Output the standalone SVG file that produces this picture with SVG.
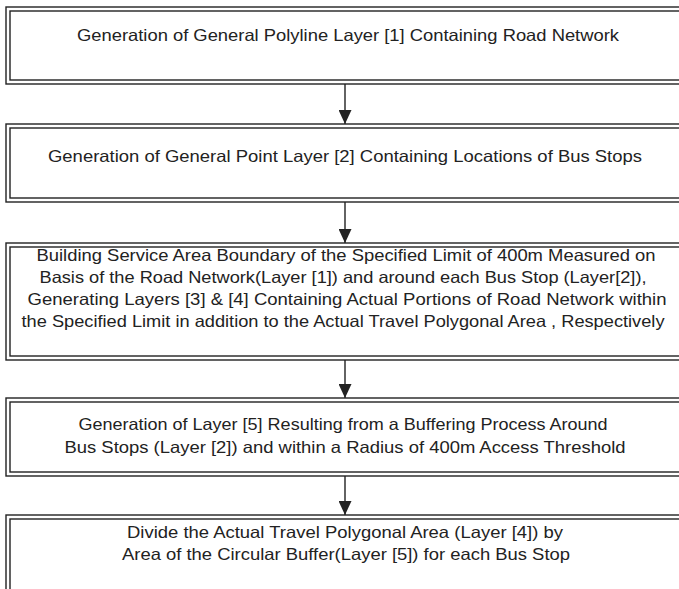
<svg xmlns="http://www.w3.org/2000/svg" width="679" height="589" viewBox="0 0 679 589">
<style>
.o{fill:none;stroke:#222;stroke-width:1.4}
.t{font-family:"Liberation Sans",Arial,sans-serif;font-size:16.5px;fill:#222;text-anchor:middle}
.c{stroke:#222;stroke-width:1.4;fill:none}
</style>
<defs>
<marker id="ah" markerWidth="14" markerHeight="13" refX="14" refY="6.5" orient="auto" markerUnits="userSpaceOnUse" viewBox="0 0 14 13">
<path d="M0,0 L14,6.5 L0,13 Z" fill="#222"/>
</marker>
</defs>
<rect width="679" height="589" fill="#fff"/>
<g id="connectors">
<line class="c" x1="345" y1="84" x2="345" y2="124" marker-end="url(#ah)"/>
<line class="c" x1="345" y1="202" x2="345" y2="243" marker-end="url(#ah)"/>
<line class="c" x1="345" y1="360" x2="345" y2="398" marker-end="url(#ah)"/>
<line class="c" x1="345" y1="476" x2="345" y2="515" marker-end="url(#ah)"/>
</g>
<g id="n1">
<rect class="o" x="6" y="7" width="690" height="77"/>
<rect class="o" x="10" y="11" width="682" height="69"/>
<text class="t" x="348" y="41" textLength="542" lengthAdjust="spacingAndGlyphs">Generation of General Polyline Layer [1] Containing Road Network</text>
</g>
<g id="n2">
<rect class="o" x="6" y="124" width="690" height="78"/>
<rect class="o" x="10" y="128" width="682" height="70"/>
<text class="t" x="345" y="162" textLength="594" lengthAdjust="spacingAndGlyphs">Generation of General Point Layer [2] Containing Locations of Bus Stops</text>
</g>
<g id="n3">
<rect class="o" x="6" y="243" width="690" height="117"/>
<rect class="o" x="10" y="247" width="682" height="109"/>
<text class="t" x="346" y="261" textLength="619" lengthAdjust="spacingAndGlyphs">Building Service Area Boundary of the Specified Limit of 400m Measured on</text>
<text class="t" x="343" y="283" textLength="607" lengthAdjust="spacingAndGlyphs">Basis of the Road Network(Layer [1]) and around each Bus Stop (Layer[2]),</text>
<text class="t" x="347" y="305" textLength="639" lengthAdjust="spacingAndGlyphs">Generating Layers [3] &amp; [4] Containing Actual Portions of Road Network within</text>
<text class="t" x="343" y="327" textLength="643" lengthAdjust="spacingAndGlyphs">the Specified Limit in addition to the Actual Travel Polygonal Area , Respectively</text>
</g>
<g id="n4">
<rect class="o" x="6" y="398" width="690" height="78"/>
<rect class="o" x="10" y="402" width="682" height="70"/>
<text class="t" x="343" y="430" textLength="529" lengthAdjust="spacingAndGlyphs">Generation of Layer [5] Resulting from a Buffering Process Around</text>
<text class="t" x="345" y="453" textLength="561" lengthAdjust="spacingAndGlyphs">Bus Stops (Layer [2]) and within a Radius of 400m Access Threshold</text>
</g>
<g id="n5">
<rect class="o" x="6" y="515" width="690" height="100"/>
<rect class="o" x="10" y="519" width="682" height="92"/>
<text class="t" x="345" y="538" textLength="436" lengthAdjust="spacingAndGlyphs">Divide the Actual Travel Polygonal Area (Layer [4]) by</text>
<text class="t" x="346" y="560" textLength="448" lengthAdjust="spacingAndGlyphs">Area of the Circular Buffer(Layer [5]) for each Bus Stop</text>
</g>
</svg>
